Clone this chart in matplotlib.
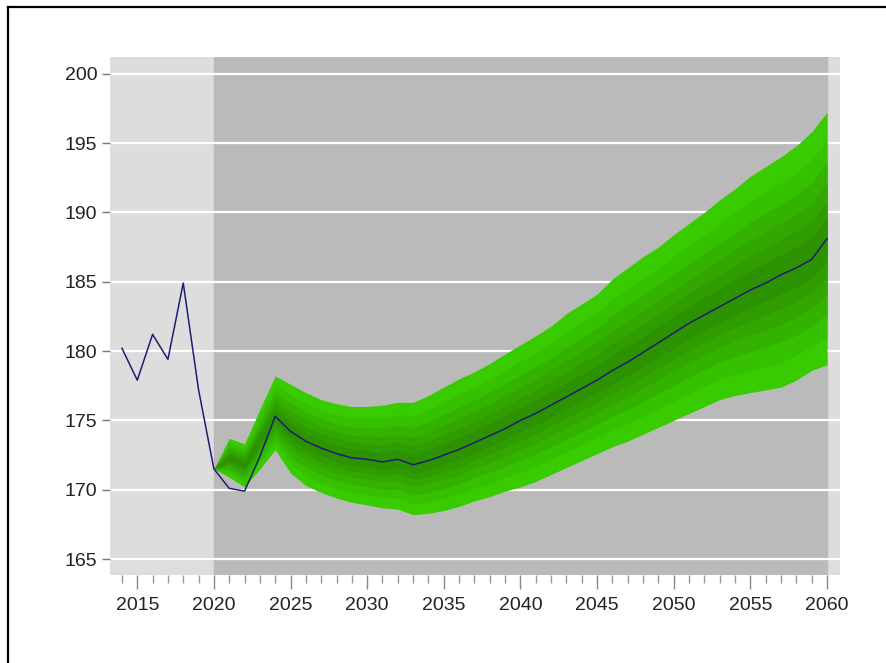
import matplotlib.pyplot as plt
import matplotlib.lines as mlines
import numpy as np

plt.rcParams['font.family'] = ['Liberation Sans', 'DejaVu Sans']

# central path, actual up to 2020 and projected after
years = list(range(2014, 2061))
values = [180.2, 177.9, 181.2, 179.4, 184.9, 177.2, 171.5, 170.1, 169.9, 172.4,
          175.3, 174.2, 173.5, 173.0, 172.6, 172.3, 172.2, 172.0, 172.2, 171.8,
          172.1, 172.5, 172.9, 173.4, 173.9, 174.4, 175.0, 175.5, 176.1, 176.7,
          177.3, 177.9, 178.6, 179.2, 179.9, 180.6, 181.3, 182.0, 182.6, 183.2,
          183.8, 184.4, 184.9, 185.5, 186.0, 186.6, 188.1]

# fan chart: outer bounds and centre of the distribution
fan_years = list(range(2020, 2061))
fan_upper = [171.5, 173.7, 173.3, 175.8, 178.2, 177.6, 177.0, 176.5, 176.2, 176.0,
             176.0, 176.1, 176.3, 176.3, 176.8, 177.4, 178.0, 178.5, 179.1, 179.8,
             180.45, 181.1, 181.8, 182.7, 183.4, 184.1, 185.2, 186.0, 186.8, 187.5,
             188.4, 189.2, 190.0, 190.9, 191.7, 192.6, 193.3, 194.0, 194.8, 195.8,
             197.2]
fan_lower = [171.5, 170.9, 170.2, 171.5, 172.9, 171.2, 170.3, 169.8, 169.4, 169.1,
             168.9, 168.7, 168.6, 168.2, 168.3, 168.5, 168.8, 169.2, 169.5, 169.9,
             170.2, 170.6, 171.1, 171.6, 172.1, 172.6, 173.1, 173.5, 174.0, 174.5,
             175.0, 175.5, 176.0, 176.5, 176.8, 177.0, 177.2, 177.4, 177.9, 178.6,
             179.0]
fan_mid = [171.5, 172.3, 171.8, 173.6] + values[10:]

band_levels = [1.0, 0.78, 0.6, 0.44, 0.3, 0.17]
band_colors = ['#38cc00', '#35c000', '#33b300', '#31a700', '#2f9c00', '#2d9200']

fig = plt.figure(figsize=(8.87, 6.63), dpi=100)
ax = fig.add_axes([0.124, 0.1327, 0.823, 0.7813])
ax.set_facecolor('#dddddd')
ax.axvspan(2020, 2060, color='#bababa', zorder=0)

yticks = list(range(165, 201, 5))
for y in yticks:
    ax.axhline(y, color='white', lw=1.6, zorder=1)

fy = np.array(fan_years)
up = np.array(fan_upper)
lo = np.array(fan_lower)
mid = np.array(fan_mid)
for f, c in zip(band_levels, band_colors):
    ax.fill_between(fy, mid - f * (mid - lo), mid + f * (up - mid),
                    color=c, lw=0, zorder=2)

ax.plot(years, values, color='#1e1e70', lw=1.1, zorder=3)

ax.set_xlim(2013.22, 2060.85)
ax.set_ylim(163.85, 201.2)
ax.set_yticks(yticks)
ax.set_xticks(range(2015, 2061, 5))
ax.set_xticks(range(2014, 2061), minor=True)
for s in ax.spines.values():
    s.set_visible(False)
ax.tick_params(axis='y', length=6, width=1, color='#777777', pad=3,
               labelsize=14, labelcolor='#222222')
ax.tick_params(axis='x', which='major', length=10, width=1, color='#888888',
               pad=6, labelsize=14, labelcolor='#222222')
ax.tick_params(axis='x', which='minor', length=6, width=1, color='#999999')

# frame around the whole picture (top and left edges)
fig.add_artist(mlines.Line2D([0.009, 1.0], [0.9894, 0.9894], color='black', lw=1.6))
fig.add_artist(mlines.Line2D([0.009, 0.009], [0.0, 0.9894], color='black', lw=1.6))

fig.savefig('out.png', dpi=100)
